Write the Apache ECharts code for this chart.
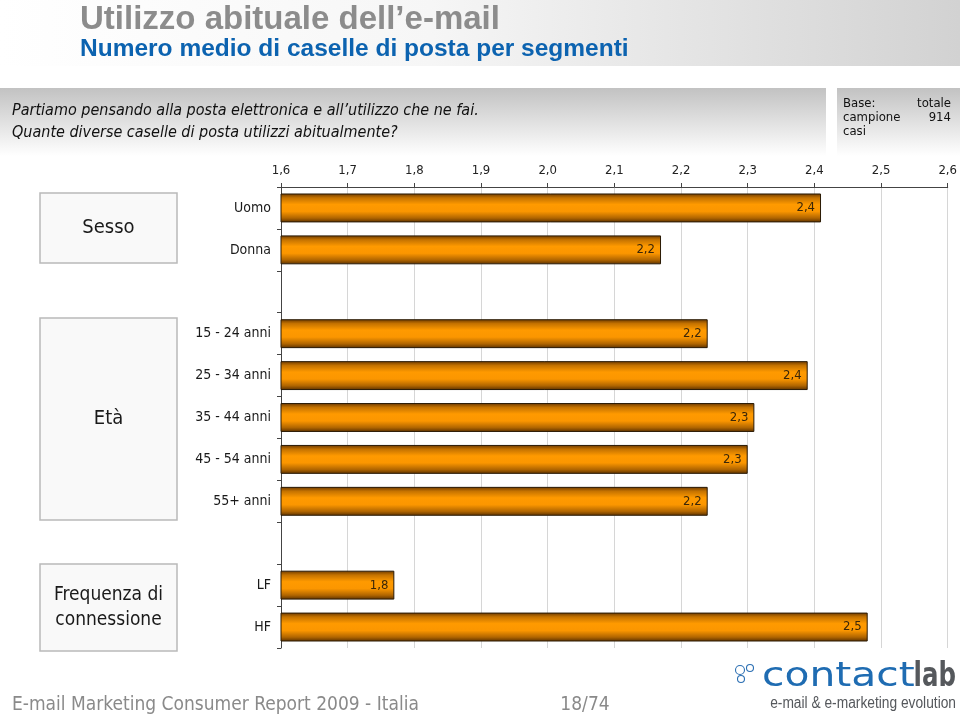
<!DOCTYPE html>
<html>
<head>
<meta charset="utf-8">
<script src="https://cdn.jsdelivr.net/npm/echarts@6/dist/echarts.min.js"></script>
<style>
html,body{margin:0;padding:0;background:#fff;}
#c{width:960px;height:723px;}
</style>
</head>
<body>
<div id="c"></div>
<script>
// ---- data ----
const categories = ['Uomo', 'Donna', '', '15 - 24 anni', '25 - 34 anni', '35 - 44 anni', '45 - 54 anni', '55+ anni', '', 'LF', 'HF'];
const values = [2.41, 2.17, null, 2.24, 2.39, 2.31, 2.30, 2.24, null, 1.77, 2.48];
const groupNames = ['Sesso', 'Età', 'Frequenza di\nconnessione'];
const axisMin = 1.6, axisMax = 2.6, axisStep = 0.1;

const COND = "'DejaVu Sans Condensed', 'DejaVu Sans', sans-serif";
const DV = "'DejaVu Sans', sans-serif";
const NARROW = "'Liberation Sans Narrow', 'Liberation Sans', Arial, sans-serif";
const LIB = "'Liberation Sans', Arial, sans-serif";

const chart = echarts.init(document.getElementById('c'), null, {renderer: 'canvas'});

const barGrad = new echarts.graphic.LinearGradient(0, 0, 0, 1, [
  {offset: 0, color: '#6a3800'},
  {offset: 0.15, color: '#c47200'},
  {offset: 0.38, color: '#ff9a00'},
  {offset: 0.62, color: '#fb9600'},
  {offset: 0.85, color: '#b06500'},
  {offset: 1, color: '#5a3000'}
]);

function box(x, y, w, h, text, fs) {
  return [
    {type: 'rect', shape: {x: x, y: y, width: w, height: h}, style: {fill: '#f9f9f9', stroke: '#b9b9b9', lineWidth: 1.5}, z: 1},
    {type: 'text', x: x + w / 2, y: y + h / 2, style: {text: text, font: fs + 'px ' + COND, fill: '#1a1a1a', align: 'center', verticalAlign: 'middle', lineHeight: 25}, z: 2}
  ];
}

const graphics = [
  // header band
  {type: 'rect', shape: {x: 0, y: 0, width: 960, height: 66}, style: {fill: new echarts.graphic.LinearGradient(0, 0, 1, 0, [{offset: 0, color: '#ffffff'}, {offset: 0.45, color: '#f6f6f6'}, {offset: 1, color: '#d2d2d2'}])}, z: 0},
  {type: 'text', x: 80, y: 20, style: {text: 'Utilizzo abituale dell\u2019e-mail', font: 'bold 33px ' + NARROW, fill: '#8c8c8c', verticalAlign: 'middle'}},
  {type: 'text', x: 80, y: 49, style: {text: 'Numero medio di caselle di posta per segmenti', font: 'bold 24.5px ' + LIB, fill: '#0c63b0', verticalAlign: 'middle'}},
  // question box
  {type: 'rect', shape: {x: 0, y: 88, width: 826, height: 68}, style: {fill: new echarts.graphic.LinearGradient(0, 0, 0, 1, [{offset: 0, color: '#c2c2c2'}, {offset: 1, color: '#ffffff'}])}, z: 0},
  {type: 'text', x: 12, y: 111, style: {text: 'Partiamo pensando alla posta elettronica e all\u2019utilizzo che ne fai.', font: 'italic 16px ' + COND, fill: '#111', verticalAlign: 'middle'}},
  {type: 'text', x: 12, y: 133, style: {text: 'Quante diverse caselle di posta utilizzi abitualmente?', font: 'italic 16px ' + COND, fill: '#111', verticalAlign: 'middle'}},
  // base box
  {type: 'rect', shape: {x: 837, y: 88, width: 123, height: 68}, style: {fill: new echarts.graphic.LinearGradient(0, 0, 0, 1, [{offset: 0, color: '#c2c2c2'}, {offset: 1, color: '#ffffff'}])}, z: 0},
  {type: 'text', x: 843, y: 104, style: {text: 'Base:', font: '13px ' + COND, fill: '#111', verticalAlign: 'middle'}},
  {type: 'text', x: 951, y: 104, style: {text: 'totale', font: '13px ' + COND, fill: '#111', align: 'right', verticalAlign: 'middle'}},
  {type: 'text', x: 843, y: 118, style: {text: 'campione', font: '13px ' + COND, fill: '#111', verticalAlign: 'middle'}},
  {type: 'text', x: 951, y: 118, style: {text: '914', font: '13px ' + COND, fill: '#111', align: 'right', verticalAlign: 'middle'}},
  {type: 'text', x: 843, y: 132, style: {text: 'casi', font: '13px ' + COND, fill: '#111', verticalAlign: 'middle'}},
  // footer
  {type: 'text', x: 12, y: 705, style: {text: 'E-mail Marketing Consumer Report 2009 - Italia', font: '19px ' + COND, fill: '#8a8a8a', verticalAlign: 'middle'}},
  {type: 'text', x: 585, y: 705, style: {text: '18/74', font: '19px ' + COND, fill: '#8a8a8a', align: 'center', verticalAlign: 'middle'}},
  // logo
  {type: 'circle', shape: {cx: 740, cy: 670, r: 4.5}, style: {fill: 'none', stroke: '#2b6fb3', lineWidth: 1.1}},
  {type: 'circle', shape: {cx: 750, cy: 668, r: 3.5}, style: {fill: 'none', stroke: '#2b6fb3', lineWidth: 1.1}},
  {type: 'circle', shape: {cx: 741, cy: 679, r: 3.5}, style: {fill: 'none', stroke: '#2b6fb3', lineWidth: 1.1}},
  {type: 'text', x: 762, y: 677, scaleX: 1.2, style: {text: 'contact', font: '34px ' + DV, fill: '#1f6cb2', verticalAlign: 'middle'}},
  {type: 'text', x: 956, y: 677, scaleX: 0.72, style: {text: 'lab', font: 'bold 34px ' + DV, fill: '#55585c', align: 'right', verticalAlign: 'middle'}},
  {type: 'text', x: 956, y: 704, scaleX: 0.86, style: {text: 'e-mail & e-marketing evolution', font: '16px ' + NARROW, fill: '#55585c', align: 'right', verticalAlign: 'middle'}}
]
.concat(box(40, 193, 137, 70, groupNames[0], 20))
.concat(box(40, 318, 137, 202, groupNames[1], 20))
.concat(box(40, 564, 137, 87, groupNames[2], 19));

const option = {
  animation: false,
  backgroundColor: '#ffffff',
  grid: {left: 281, right: 10, top: 187, bottom: 75, containLabel: false},
  xAxis: {
    type: 'value', position: 'top', min: axisMin, max: axisMax, interval: axisStep,
    axisLine: {show: true, lineStyle: {color: '#444', width: 1}},
    axisTick: {show: true, length: 4, inside: false, lineStyle: {color: '#444'}},
    axisLabel: {margin: 10, fontFamily: COND, fontSize: 13, color: '#222', formatter: v => v.toFixed(1).replace('.', ',')},
    splitLine: {show: true, lineStyle: {color: '#d6d6d6', width: 1}}
  },
  yAxis: {
    type: 'category', data: categories, inverse: true,
    axisLine: {show: true, lineStyle: {color: '#444', width: 1}},
    axisTick: {show: true, length: 4, alignWithLabel: false, lineStyle: {color: '#444'}},
    axisLabel: {margin: 10, fontFamily: COND, fontSize: 14, color: '#1a1a1a', interval: 0},
    splitLine: {show: false}
  },
  series: [{
    type: 'bar', data: values, barCategoryGap: '31%',
    itemStyle: {color: barGrad, borderColor: '#2a1a05', borderWidth: 1},
    label: {show: true, position: 'insideRight', distance: 6, fontFamily: COND, fontSize: 13, color: '#3a2608',
      formatter: p => p.value == null ? '' : p.value.toFixed(1).replace('.', ',')}
  }],
  graphic: graphics
};
chart.setOption(option);
</script>
</body>
</html>
